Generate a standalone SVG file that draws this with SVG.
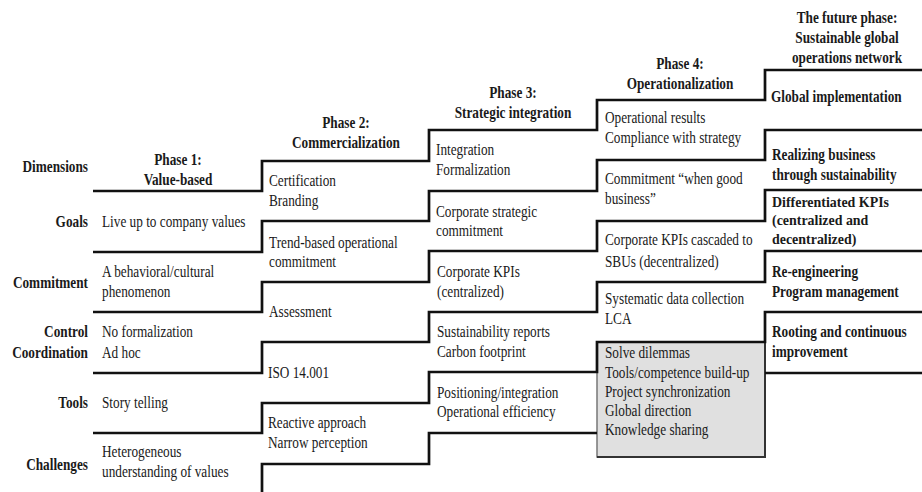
<svg xmlns="http://www.w3.org/2000/svg" width="922" height="492" viewBox="0 0 922 492">
<style>
.t{font-family:"Liberation Serif","Times New Roman",serif;font-size:17px;fill:#1a1a1a}
.b{font-weight:bold}
.e{text-anchor:end}
.m{text-anchor:middle}
.ln{fill:none;stroke:#111;stroke-width:2.7}
.box{fill:#e0e0e0;stroke:#777;stroke-width:1.5}
</style>
<rect width="922" height="492" fill="#fff"/>
<g id="shaded-box"><rect class="box" x="597" y="342" width="168" height="115"/><path d="M765 342 V457 H597" fill="none" stroke="#333" stroke-width="2"/></g>
<g id="connectors">
<path class="ln" d="M93 191 H262 V161 H429 V130 H597 V100 H765 V70 H922"/>
<path class="ln" d="M93 252 H262 V221 H429 V191 H597 V160 H765 V130 H922"/>
<path class="ln" d="M93 312 H262 V282 H429 V251 H597 V221 H765 V190 H922"/>
<path class="ln" d="M93 373 H262 V342 H429 V312 H597 V282 H765 V251 H922"/>
<path class="ln" d="M93 433 H262 V403 H429 V372 H597 V342 H765 V312 H922"/>
<path class="ln" d="M93 494 H262 V464 H429 V433 H597"/>
<path class="ln" d="M765 373 H922"/>
</g>
<g id="dimension-labels">
<text class="t b e" transform="translate(88 0) scale(.78 1)"><tspan x="0" y="172">Dimensions</tspan></text>
<text class="t b e" transform="translate(88 0) scale(.78 1)"><tspan x="0" y="227">Goals</tspan></text>
<text class="t b e" transform="translate(88 0) scale(.78 1)"><tspan x="0" y="288">Commitment</tspan></text>
<text class="t b e" transform="translate(88 0) scale(.78 1)"><tspan x="0" y="337">Control</tspan><tspan x="0" y="358">Coordination</tspan></text>
<text class="t b e" transform="translate(88 0) scale(.78 1)"><tspan x="0" y="408">Tools</tspan></text>
<text class="t b e" transform="translate(88 0) scale(.78 1)"><tspan x="0" y="470">Challenges</tspan></text>
</g>
<g id="phase1">
<text class="t b m" transform="translate(178 0) scale(.78 1)"><tspan x="0" y="165">Phase 1:</tspan><tspan x="0" y="185">Value-based</tspan></text>
<text class="t" transform="translate(102 0) scale(.78 1)"><tspan x="0" y="227">Live up to company values</tspan></text>
<text class="t" transform="translate(102 0) scale(.78 1)"><tspan x="0" y="277">A behavioral/cultural</tspan><tspan x="0" y="297">phenomenon</tspan></text>
<text class="t" transform="translate(102 0) scale(.78 1)"><tspan x="0" y="337">No formalization</tspan><tspan x="0" y="358">Ad hoc</tspan></text>
<text class="t" transform="translate(102 0) scale(.78 1)"><tspan x="0" y="408">Story telling</tspan></text>
<text class="t" transform="translate(102 0) scale(.78 1)"><tspan x="0" y="457">Heterogeneous</tspan><tspan x="0" y="477">understanding of values</tspan></text>
</g>
<g id="phase2">
<text class="t b m" transform="translate(346 0) scale(.78 1)"><tspan x="0" y="128">Phase 2:</tspan><tspan x="0" y="148">Commercialization</tspan></text>
<text class="t" transform="translate(269 0) scale(.78 1)"><tspan x="0" y="186">Certification</tspan><tspan x="0" y="206">Branding</tspan></text>
<text class="t" transform="translate(269 0) scale(.78 1)"><tspan x="0" y="248">Trend-based operational</tspan><tspan x="0" y="267">commitment</tspan></text>
<text class="t" transform="translate(269 0) scale(.78 1)"><tspan x="0" y="317">Assessment</tspan></text>
<text class="t" transform="translate(268 0) scale(.78 1)"><tspan x="0" y="378">ISO 14.001</tspan></text>
<text class="t" transform="translate(268 0) scale(.78 1)"><tspan x="0" y="428">Reactive approach</tspan><tspan x="0" y="448">Narrow perception</tspan></text>
</g>
<g id="phase3">
<text class="t b m" transform="translate(513 0) scale(.78 1)"><tspan x="0" y="98">Phase 3:</tspan><tspan x="0" y="118">Strategic integration</tspan></text>
<text class="t" transform="translate(436 0) scale(.78 1)"><tspan x="0" y="155">Integration</tspan><tspan x="0" y="175">Formalization</tspan></text>
<text class="t" transform="translate(436 0) scale(.78 1)"><tspan x="0" y="217">Corporate strategic</tspan><tspan x="0" y="236">commitment</tspan></text>
<text class="t" transform="translate(437 0) scale(.78 1)"><tspan x="0" y="277">Corporate KPIs</tspan><tspan x="0" y="297">(centralized)</tspan></text>
<text class="t" transform="translate(437 0) scale(.78 1)"><tspan x="0" y="337">Sustainability reports</tspan><tspan x="0" y="357">Carbon footprint</tspan></text>
<text class="t" transform="translate(437 0) scale(.78 1)"><tspan x="0" y="398">Positioning/integration</tspan><tspan x="0" y="417">Operational efficiency</tspan></text>
</g>
<g id="phase4">
<text class="t b m" transform="translate(680 0) scale(.78 1)"><tspan x="0" y="69">Phase 4:</tspan><tspan x="0" y="89">Operationalization</tspan></text>
<text class="t" transform="translate(605 0) scale(.78 1)"><tspan x="0" y="123">Operational results</tspan><tspan x="0" y="143">Compliance with strategy</tspan></text>
<text class="t" transform="translate(605 0) scale(.78 1)"><tspan x="0" y="184">Commitment “when good</tspan><tspan x="0" y="204">business”</tspan></text>
<text class="t" transform="translate(605 0) scale(.78 1)"><tspan x="0" y="245">Corporate KPIs cascaded to</tspan><tspan x="0" y="267">SBUs (decentralized)</tspan></text>
<text class="t" transform="translate(605 0) scale(.78 1)"><tspan x="0" y="304">Systematic data collection</tspan><tspan x="0" y="324">LCA</tspan></text>
<text class="t" transform="translate(605 0) scale(.78 1)"><tspan x="0" y="358">Solve dilemmas</tspan><tspan x="0" y="378">Tools/competence build-up</tspan><tspan x="0" y="397">Project synchronization</tspan><tspan x="0" y="416">Global direction</tspan><tspan x="0" y="435">Knowledge sharing</tspan></text>
</g>
<g id="phase5">
<text class="t b m" transform="translate(847 0) scale(.78 1)"><tspan x="0" y="23">The future phase:</tspan><tspan x="0" y="43">Sustainable global</tspan><tspan x="0" y="63">operations network</tspan></text>
<text class="t b" transform="translate(771 0) scale(.78 1)"><tspan x="0" y="102">Global implementation</tspan></text>
<text class="t b" transform="translate(772 0) scale(.78 1)"><tspan x="0" y="160">Realizing business</tspan><tspan x="0" y="180">through sustainability</tspan></text>
<text class="t b" style="font-size:15px" transform="translate(772 0) scale(.93 1)"><tspan x="0" y="207">Differentiated KPIs</tspan><tspan x="0" y="225">(centralized and</tspan><tspan x="0" y="244">decentralized)</tspan></text>
<text class="t b" transform="translate(772 0) scale(.78 1)"><tspan x="0" y="277">Re-engineering</tspan><tspan x="0" y="297">Program management</tspan></text>
<text class="t b" transform="translate(772 0) scale(.78 1)"><tspan x="0" y="337">Rooting and continuous</tspan><tspan x="0" y="357">improvement</tspan></text>
</g>
</svg>
